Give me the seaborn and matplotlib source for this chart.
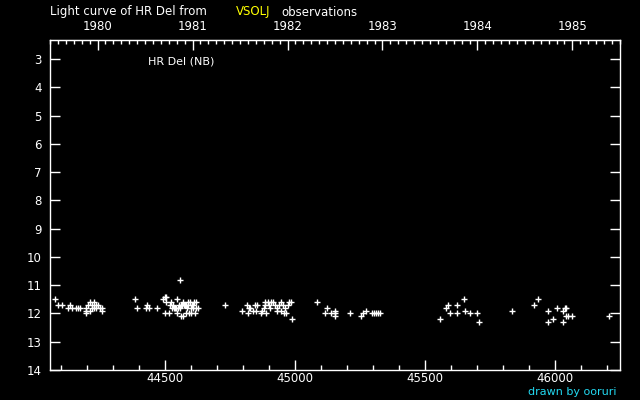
import numpy as np
import pandas as pd
import seaborn as sns
import matplotlib
matplotlib.use("Agg")
import matplotlib.pyplot as plt
from matplotlib.ticker import MultipleLocator

# observations (JD - 2400000, visual magnitude)
jd = [44077, 44089, 44104, 44124, 44135, 44142, 44158, 44165, 44173,
      44194, 44196, 44196, 44204, 44212, 44212, 44219, 44219, 44227, 44227,
      44235, 44235, 44242, 44250, 44258, 44258,
      44385, 44392, 44427, 44431, 44439, 44469,
      44492, 44500, 44504, 44504, 44500, 44515, 44523, 44519, 44527, 44531,
      44539, 44546, 44546, 44554, 44558, 44562, 44562, 44569, 44569, 44577,
      44581, 44585, 44589, 44592, 44596, 44600, 44604, 44608, 44612, 44616,
      44619, 44619, 44627, 44535, 44543, 44550, 44558, 44566, 44573, 44581,
      44589, 44597, 44605,
      44731, 44796, 44815, 44819, 44823, 44827, 44839, 44846, 44850, 44854,
      44869, 44873, 44881, 44885, 44885, 44889, 44896, 44900, 44904, 44908,
      44916, 44923, 44931, 44931, 44939, 44946, 44946, 44954, 44958, 44962,
      44965, 44973, 44977, 44985, 44989,
      45085, 45116, 45123, 45139, 45154, 45154, 45154, 45212, 45254, 45262,
      45273, 45296, 45304, 45312, 45319, 45327,
      45558, 45581, 45589, 45596, 45623, 45623, 45650, 45654, 45673, 45700,
      45708,
      45835, 45919, 45935, 45973, 45973, 45992, 46008, 46031, 46031, 46039,
      46042, 46042, 46050, 46065, 46208]
mag = [11.5, 11.7, 11.7, 11.8, 11.7, 11.8, 11.8, 11.8, 11.8,
       12.0, 11.9, 11.8, 11.7, 11.6, 11.9, 11.7, 11.8, 11.6, 11.8,
       11.7, 11.8, 11.7, 11.8, 11.8, 11.9,
       11.5, 11.8, 11.8, 11.7, 11.8, 11.8,
       11.5, 11.4, 11.4, 11.6, 12.0, 12.0, 11.6, 11.7, 11.8, 11.7,
       11.8, 11.5, 12.0, 11.7, 10.8, 11.7, 12.1, 11.6, 12.1, 11.7,
       12.0, 11.8, 11.6, 12.0, 11.6, 12.0, 11.7, 11.8, 11.6, 12.0,
       11.6, 11.8, 11.8, 11.8, 11.8, 11.8, 11.8, 11.7, 11.7, 11.7,
       11.7, 11.8, 11.7,
       11.7, 11.9, 11.7, 12.0, 11.8, 11.8, 11.9, 11.7, 11.9, 11.7,
       12.0, 11.9, 11.8, 11.6, 11.7, 12.0, 11.6, 11.7, 11.8, 11.6,
       11.6, 11.7, 11.8, 11.9, 11.7, 11.6, 11.9, 11.7, 12.0, 11.8,
       12.0, 11.7, 11.6, 11.6, 12.2,
       11.6, 12.0, 11.8, 12.0, 11.9, 12.0, 12.1, 12.0, 12.1, 12.0,
       11.9, 12.0, 12.0, 12.0, 12.0, 12.0,
       12.2, 11.8, 11.7, 12.0, 11.7, 12.0, 11.5, 11.9, 12.0, 12.0,
       12.3,
       11.9, 11.7, 11.5, 11.9, 12.3, 12.2, 11.8, 11.9, 12.3, 11.8,
       11.8, 12.1, 12.1, 12.1, 12.1]

year_ticks = [1980, 1981, 1982, 1983, 1984, 1985]
mag_ticks = list(range(3, 15))
jd_ticks = [44500, 45000, 45500, 46000]
star = "HR Del (NB)"

df = pd.DataFrame({"jd": jd, "mag": mag})


def jd2yr(x):
    return 1980 + (np.asarray(x) - 44239.5) / 365.25


def yr2jd(y):
    return 44239.5 + (np.asarray(y) - 1980) * 365.25


sns.set_style("ticks", {"axes.facecolor": "black", "figure.facecolor": "black",
                        "axes.edgecolor": "white", "xtick.color": "white",
                        "ytick.color": "white", "text.color": "white"})
plt.rcParams['font.family'] = ['DejaVu Sans']

fig = plt.figure(figsize=(6.4, 4.0), dpi=100, facecolor="black")
ax = fig.add_axes([50 / 640, 30 / 400, 570 / 640, 330 / 400])

sns.scatterplot(data=df, x="jd", y="mag", marker="+", s=15, color="white",
                linewidth=1.0, ax=ax, legend=False)

ax.set_xlim(44056.5, 46248.8)
ax.set_ylim(14, 2.32)
ax.set_xlabel("")
ax.set_ylabel("")
for sp in ax.spines.values():
    sp.set_visible(True)
    sp.set_color("white")
    sp.set_linewidth(1.0)

ax.set_xticks(jd_ticks)
ax.set_xticklabels([str(t) for t in jd_ticks])
ax.xaxis.set_minor_locator(MultipleLocator(100))
ax.tick_params(axis="x", which="major", direction="in", length=7.5, width=1,
               colors="white", labelsize=8.5, pad=1.5, top=False)
ax.tick_params(axis="x", which="minor", direction="in", length=3.6, width=1,
               colors="white", top=False)
ax.set_yticks(mag_ticks)
ax.set_yticklabels([str(t) for t in mag_ticks])
ax.tick_params(axis="y", which="major", direction="in", length=7.5, width=1,
               colors="white", labelsize=8.5, pad=6, left=True, right=True)

sec = ax.secondary_xaxis("top", functions=(jd2yr, yr2jd))
sec.set_xticks(year_ticks)
sec.set_xticklabels([str(y) for y in year_ticks])
sec.xaxis.set_minor_locator(MultipleLocator(1 / 12))
sec.tick_params(which="major", direction="in", length=7, width=1,
                colors="white", labelsize=8.5, pad=5)
sec.tick_params(which="minor", direction="in", length=3, width=1, colors="white")
sec.spines["top"].set_color("white")

ax.text(0.172, 0.936, star, transform=ax.transAxes, color="white",
        fontsize=8, ha="left", va="center")

fig.text(50 / 640, 1 - 12 / 400, "Light curve of HR Del from", color="white",
         fontsize=8.5, ha="left", va="center")
fig.text(236 / 640, 1 - 12 / 400, "VSOLJ", color="#ffff00",
         fontsize=8.5, ha="left", va="center")
fig.text(281 / 640, 1 - 12 / 400, "observations", color="white",
         fontsize=8.5, ha="left", va="center")
fig.text(617 / 640, 1 - 392 / 400, "drawn by ooruri", color="#22d8f0",
         fontsize=8, ha="right", va="center")

fig.savefig("out.png", dpi=100, facecolor="black")
